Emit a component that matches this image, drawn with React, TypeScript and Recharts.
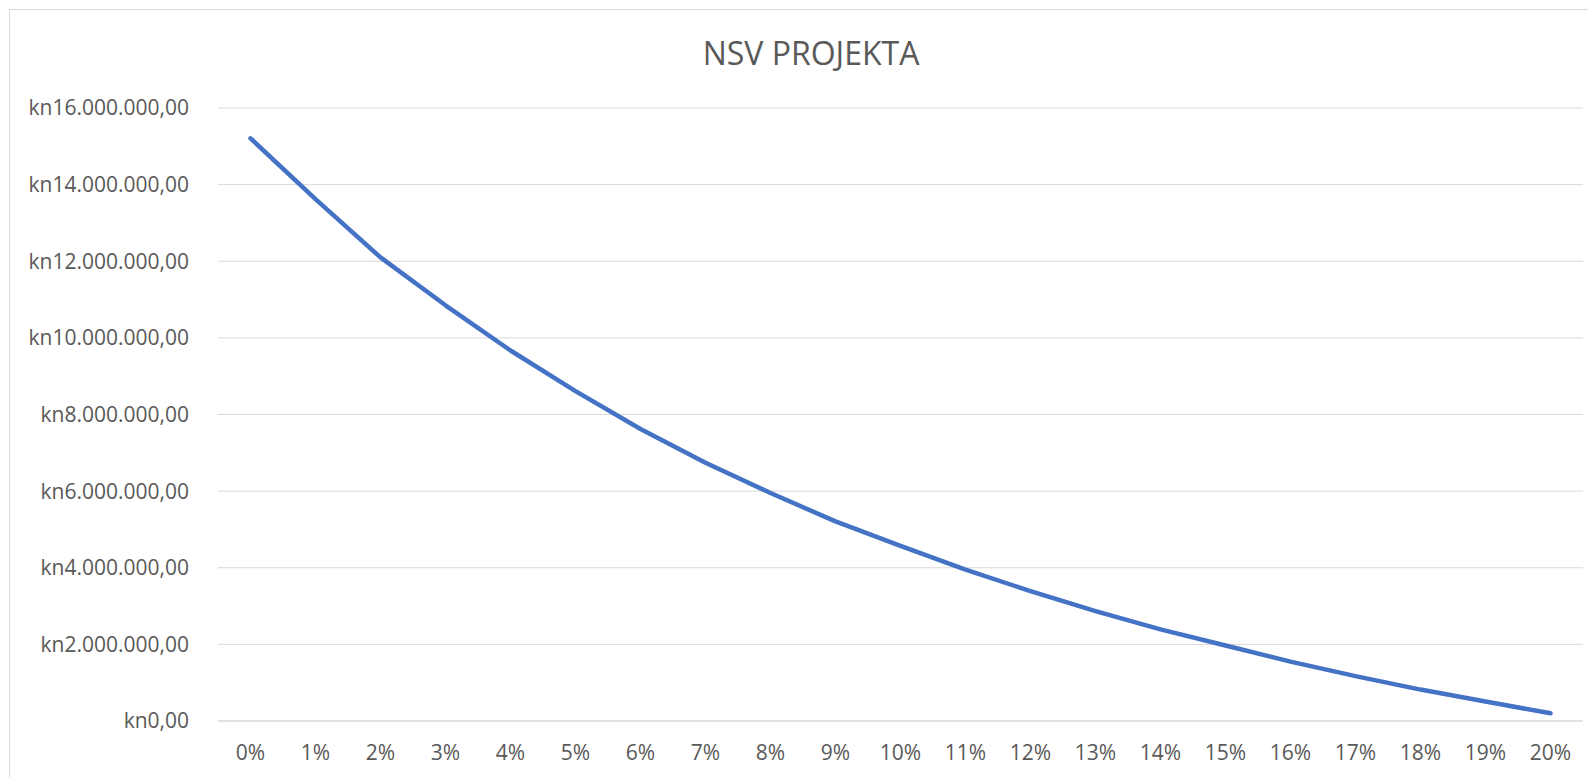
import { LineChart, Line, XAxis, YAxis, CartesianGrid } from 'recharts';

const rates = ['0%', '1%', '2%', '3%', '4%', '5%', '6%', '7%', '8%', '9%', '10%', '11%', '12%', '13%', '14%', '15%', '16%', '17%', '18%', '19%', '20%'];
const npv = [
  15210000, 13620000, 12100000, 10850000, 9670000, 8610000, 7620000, 6740000, 5950000, 5210000, 4570000,
  3950000, 3390000, 2870000, 2390000, 1970000, 1550000, 1170000, 820000, 510000, 200000,
];
const yTicks = [0, 2000000, 4000000, 6000000, 8000000, 10000000, 12000000, 14000000, 16000000];

const data = rates.map((rate, i) => ({ rate, npv: npv[i] }));

const fmtKn = (v: number) => {
  const int = Math.round(v).toString().replace(/\B(?=(\d{3})+(?!\d))/g, '.');
  return `kn${int},00`;
};

const font = '"Open Sans", sans-serif';
const textColor = '#595959';

export default function App() {
  return (
    <div
      style={{
        position: 'relative',
        width: 1584,
        height: 790,
        marginLeft: 1,
        marginTop: 1,
        border: '1px solid #d9d9d9',
        boxSizing: 'border-box',
        background: '#fff',
        fontFamily: font,
      }}
    >
      <div
        style={{
          position: 'absolute',
          left: 801,
          top: 27,
          transform: 'translateX(-50%)',
          fontSize: 32,
          lineHeight: '32px',
          color: textColor,
          whiteSpace: 'nowrap',
        }}
      >
        NSV PROJEKTA
      </div>
      <LineChart width={1582} height={780} data={data} margin={{ top: 98, right: 9, bottom: 0, left: 0 }}>
        <CartesianGrid vertical={false} stroke="#d9d9d9" strokeWidth={1} />
        <XAxis
          dataKey="rate"
          interval={0}
          height={69}
          tickSize={0}
          tickMargin={24}
          padding={{ left: 32.5, right: 32.5 }}
          axisLine={{ stroke: '#d9d9d9' }}
          tick={{ fill: textColor, fontSize: 21, fontFamily: font }}
        />
        <YAxis
          width={208}
          domain={[0, 16000000]}
          ticks={yTicks}
          tickFormatter={fmtKn}
          tickSize={0}
          tickMargin={29}
          axisLine={false}
          tick={{ fill: textColor, fontSize: 21, fontFamily: font }}
        />
        <Line
          type="linear"
          dataKey="npv"
          stroke="#4472C4"
          strokeWidth={4.5}
          strokeLinecap="round"
          strokeLinejoin="round"
          dot={false}
          activeDot={false}
          isAnimationActive={false}
        />
      </LineChart>
    </div>
  );
}
